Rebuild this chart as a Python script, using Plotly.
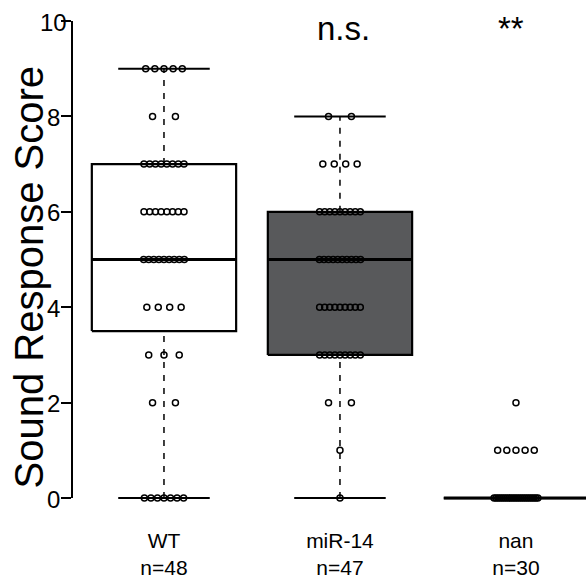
import numpy as np
import plotly.graph_objects as go

# ---- data ----
groups = ["WT", "miR-14", "nan"]
n_labels = ["n=48", "n=47", "n=30"]
score_levels = [0, 1, 2, 3, 4, 5, 6, 7, 8, 9]
wt_counts = [7, 0, 2, 3, 4, 9, 8, 8, 2, 5]
mir14_counts = [1, 1, 2, 9, 9, 10, 9, 4, 2, 0]
nan_counts = [24, 5, 1, 0, 0, 0, 0, 0, 0, 0]
significance = ["", "n.s.", "**"]
box_fills = ["white", "#58595b", "white"]
y_ticks = [0, 2, 4, 6, 8, 10]

all_counts = [wt_counts, mir14_counts, nan_counts]

FONT = "Liberation Sans, Arial, sans-serif"
Y_LO = -0.125  # small padding below 0 so lines at 0 are not clipped


def expand(counts):
    vals = []
    for lvl, c in zip(score_levels, counts):
        vals += [lvl] * c
    return np.array(vals, dtype=float)


def fivenum(x):
    x = np.sort(x)
    n = len(x)
    n4 = np.floor((n + 3) / 2) / 2
    d = np.array([1, n4, (n + 1) / 2, n + 1 - n4, n])
    return 0.5 * (x[np.floor(d).astype(int) - 1] + x[np.ceil(d).astype(int) - 1])


fig = go.Figure()

BOX_HW = 0.41
CAP_HW = 0.26
SWARM_HW = 0.13

for gi, counts in enumerate(all_counts):
    vals = expand(counts)
    mn, q1, med, q3, mx = fivenum(vals)
    iqr = q3 - q1
    lo = vals[vals >= q1 - 1.5 * iqr].min()
    hi = vals[vals <= q3 + 1.5 * iqr].max()
    c = gi
    for a, b in [(q3, hi), (lo, q1)]:
        fig.add_trace(go.Scatter(x=[c, c], y=[a, b], mode="lines",
                                 line=dict(color="black", width=1.5, dash="6px,7px"),
                                 cliponaxis=False, hoverinfo="skip", showlegend=False))
    for v in [hi, lo]:
        fig.add_trace(go.Scatter(x=[c - CAP_HW, c + CAP_HW], y=[v, v], mode="lines",
                                 line=dict(color="black", width=2),
                                 cliponaxis=False, hoverinfo="skip", showlegend=False))
    fig.add_trace(go.Scatter(x=[c - BOX_HW, c + BOX_HW, c + BOX_HW, c - BOX_HW, c - BOX_HW],
                             y=[q1, q1, q3, q3, q1], mode="lines", fill="toself",
                             fillcolor=box_fills[gi],
                             line=dict(color="black", width=2.2),
                             cliponaxis=False, hoverinfo="skip", showlegend=False))
    fig.add_trace(go.Scatter(x=[c - BOX_HW, c + BOX_HW], y=[med, med], mode="lines",
                             line=dict(color="black", width=3),
                             cliponaxis=False, hoverinfo="skip", showlegend=False))

for gi, counts in enumerate(all_counts):
    xs, ys = [], []
    for lvl, k in zip(score_levels, counts):
        for i in range(k):
            off = (-1 + (2 * i + 1) / k) * SWARM_HW if k > 1 else 0.0
            xs.append(gi + off)
            ys.append(lvl)
    fig.add_trace(go.Scatter(x=xs, y=ys, mode="markers",
                             marker=dict(symbol="circle-open", size=6, color="black",
                                         line=dict(width=1.5, color="black")),
                             cliponaxis=False, hoverinfo="skip", showlegend=False))

# invisible trace so the visible y axis (y2) is drawn
fig.add_trace(go.Scatter(x=[0], y=[0], xaxis="x", yaxis="y2", mode="markers",
                         marker=dict(opacity=0), hoverinfo="skip", showlegend=False))

# y tick labels (centred, as in the reference)
for t in y_ticks:
    fig.add_annotation(x=0, y=t, xref="paper", yref="y", text=str(t), showarrow=False,
                       xanchor="center", yanchor="middle", xshift=-20, yshift=-1,
                       font=dict(family=FONT, size=24, color="black"))

sig_shift = [0, 4, -5]
for gi, s in enumerate(significance):
    if s:
        fig.add_annotation(x=gi, y=10, xref="x", yref="y", text=s, showarrow=False,
                           xanchor="center", yanchor="middle", yshift=-7,
                           xshift=sig_shift[gi],
                           font=dict(family=FONT, size=33, color="black"))

fig.add_annotation(x=0, y=0.5, xref="paper", yref="paper", text="Sound Response Score",
                   textangle=-90, showarrow=False, xanchor="center", yanchor="middle",
                   xshift=-45, yshift=-15, font=dict(family=FONT, size=40, color="black"))

frac0 = (0 - Y_LO) / (10 - Y_LO)

fig.update_layout(
    width=586, height=582,
    margin=dict(l=73, r=0, t=21, b=78),
    paper_bgcolor="white", plot_bgcolor="rgba(0,0,0,0)",
    font=dict(family=FONT, color="black"),
    showlegend=False,
    xaxis=dict(range=[-0.517, 2.398], tickvals=[0, 1, 2],
               ticktext=[f"{g}<br>{n}" for g, n in zip(groups, n_labels)],
               showline=False, showgrid=False, zeroline=False, ticks="",
               tickfont=dict(family=FONT, size=21, color="black"),
               ticklabelstandoff=22),
    yaxis=dict(range=[Y_LO, 10], domain=[0, 1], visible=False, showgrid=False,
               zeroline=False),
    yaxis2=dict(range=[0, 10], domain=[frac0, 1], anchor="x", side="left",
                tickvals=y_ticks, showticklabels=False, showline=True, linecolor="black",
                linewidth=1.5, ticks="outside", ticklen=10, tickwidth=1.5, tickcolor="black",
                showgrid=False, zeroline=False),
)

fig.write_html("out.html")
